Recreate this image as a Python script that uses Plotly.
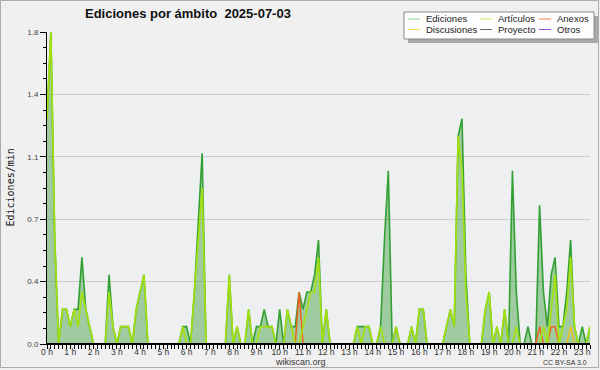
import plotly.graph_objects as go

# ---- data: 10-minute bins, edits per minute ----
minutes = list(range(0, 1410, 10))  # 00:00 .. 23:20

ediciones = [
    1.3, 1.8, 0.6, 0.0, 0.2, 0.2, 0.1, 0.2, 0.2, 0.5, 0.2, 0.1, 0.0, 0.0, 0.0, 0.0, 0.4, 0.1, 0.0, 0.1,
    0.1, 0.1, 0.0, 0.2, 0.3, 0.4, 0.0, 0.0, 0.0, 0.0, 0.0, 0.0, 0.0, 0.0, 0.0, 0.1, 0.1, 0.0, 0.3, 0.7,
    1.1, 0.0, 0.0, 0.0, 0.0, 0.0, 0.0, 0.4, 0.0, 0.1, 0.0, 0.0, 0.2, 0.0, 0.1, 0.1, 0.2, 0.1, 0.1, 0.0,
    0.2, 0.0, 0.2, 0.1, 0.1, 0.3, 0.2, 0.3, 0.3, 0.4, 0.6, 0.0, 0.2, 0.0, 0.0, 0.0, 0.0, 0.0, 0.0, 0.0,
    0.1, 0.1, 0.1, 0.1, 0.0, 0.0, 0.1, 0.6, 1.0, 0.0, 0.1, 0.0, 0.0, 0.0, 0.1, 0.0, 0.2, 0.2, 0.0, 0.0,
    0.0, 0.0, 0.0, 0.1, 0.2, 0.1, 1.2, 1.3, 0.4, 0.0, 0.0, 0.0, 0.0, 0.2, 0.3, 0.0, 0.1, 0.0, 0.2, 0.0,
    1.0, 0.3, 0.0, 0.0, 0.1, 0.0, 0.0, 0.8, 0.3, 0.1, 0.4, 0.5, 0.1, 0.1, 0.3, 0.6, 0.1, 0.0, 0.1, 0.0,
    0.1,
]
articulos = [
    1.3, 1.8, 0.6, 0.0, 0.2, 0.2, 0.1, 0.2, 0.1, 0.3, 0.2, 0.1, 0.0, 0.0, 0.0, 0.0, 0.3, 0.1, 0.0, 0.1,
    0.1, 0.1, 0.0, 0.2, 0.3, 0.4, 0.0, 0.0, 0.0, 0.0, 0.0, 0.0, 0.0, 0.0, 0.0, 0.1, 0.0, 0.0, 0.3, 0.6,
    0.9, 0.0, 0.0, 0.0, 0.0, 0.0, 0.0, 0.4, 0.0, 0.1, 0.0, 0.0, 0.2, 0.0, 0.0, 0.1, 0.1, 0.1, 0.1, 0.0,
    0.0, 0.0, 0.2, 0.1, 0.0, 0.0, 0.1, 0.2, 0.3, 0.3, 0.5, 0.0, 0.2, 0.0, 0.0, 0.0, 0.0, 0.0, 0.0, 0.0,
    0.1, 0.0, 0.1, 0.1, 0.0, 0.0, 0.1, 0.0, 0.0, 0.0, 0.1, 0.0, 0.0, 0.0, 0.1, 0.0, 0.2, 0.2, 0.0, 0.0,
    0.0, 0.0, 0.0, 0.1, 0.2, 0.1, 1.2, 1.0, 0.3, 0.0, 0.0, 0.0, 0.0, 0.2, 0.3, 0.0, 0.1, 0.0, 0.2, 0.0,
    0.0, 0.1, 0.0, 0.0, 0.0, 0.0, 0.0, 0.0, 0.1, 0.0, 0.2, 0.4, 0.0, 0.1, 0.2, 0.5, 0.1, 0.0, 0.0, 0.0,
    0.1,
]
anexos = [0.0] * 141
anexos_nonzero = {65: 0.3, 127: 0.1, 130: 0.1, 131: 0.1}
for k, v in anexos_nonzero.items():
    anexos[k] = v
discusiones = [0.0] * 141
discusiones[135] = 0.1
proyecto = [0.0] * 141
otros = [0.0] * 141

y_tickvals = [0, 0.36, 0.72, 1.08, 1.44, 1.8]
y_ticktext = ["0.0", "0.4", "0.7", "1.1", "1.4", "1.8"]
x_tickvals = list(range(24))
x_ticktext = [f"{h} h" for h in x_tickvals]

legend_items = [
    ("Ediciones", "#8fd88f"), ("Artículos", "#c8ec50"), ("Anexos", "#f08050"),
    ("Discusiones", "#f8d860"), ("Proyecto", "#666666"), ("Otros", "#9a50e8"),
]

hours = [m / 60 for m in minutes]

# ---- geometry ----
W, H = 600, 370
L, R, T, B = 47, 10, 32, 26
PW, PH = W - L - R, H - T - B


def px(x):
    return (x - L) / PW


def py(y):
    return (H - B - y) / PH


fig = go.Figure()
fig.add_trace(go.Scatter(x=hours, y=proyecto, mode="lines", line=dict(color="#555555", width=1.2),
                         showlegend=False, hoverinfo="skip"))
fig.add_trace(go.Scatter(x=hours, y=otros, mode="lines", line=dict(color="#9a50e8", width=1.2),
                         showlegend=False, hoverinfo="skip"))
fig.add_trace(go.Scatter(x=hours, y=ediciones, mode="lines", fill="tozeroy",
                         fillcolor="rgba(60,160,60,0.45)", line=dict(color="#33a033", width=1.6),
                         name="Ediciones", showlegend=False))
fig.add_trace(go.Scatter(x=hours, y=discusiones, mode="lines", line=dict(color="#f0c020", width=1.5),
                         name="Discusiones", showlegend=False))
fig.add_trace(go.Scatter(x=hours, y=anexos, mode="lines", line=dict(color="#f06020", width=1.5),
                         name="Anexos", showlegend=False))
fig.add_trace(go.Scatter(x=hours, y=articulos, mode="lines", line=dict(color="#a4e010", width=1.7),
                         name="Artículos", showlegend=False))

shapes = []
annotations = []
# outer frame
shapes.append(dict(type="rect", xref="paper", yref="paper", x0=px(0.5), x1=px(598.5), y0=py(0.5), y1=py(367.5),
                   line=dict(color="#aaaaaa", width=1), fillcolor="rgba(0,0,0,0)", layer="below"))
# baseline over zero-valued lines
shapes.append(dict(type="line", xref="paper", yref="y", x0=0, x1=1, y0=0, y1=0,
                   line=dict(color="black", width=2), layer="above"))
# legend box with shadow
shapes.append(dict(type="rect", xref="paper", yref="paper", x0=px(408), x1=px(598), y0=py(16), y1=py(43),
                   line=dict(width=0), fillcolor="#a8a8a8", layer="above"))
shapes.append(dict(type="rect", xref="paper", yref="paper", x0=px(404), x1=px(594), y0=py(12), y1=py(39),
                   line=dict(color="#8a8a8a", width=1), fillcolor="#fdfdfd", layer="above"))
col_x = [408, 480, 539]
row_y = [19, 29.5]
for idx, (name, color) in enumerate(legend_items):
    r, c = divmod(idx, 3)
    sx = col_x[c]
    sy = row_y[r]
    shapes.append(dict(type="line", xref="paper", yref="paper", x0=px(sx), x1=px(sx + 12), y0=py(sy), y1=py(sy),
                       line=dict(color=color, width=1), layer="above"))
    annotations.append(dict(text=name, xref="paper", yref="paper", x=px(sx + 16), y=py(sy), xanchor="left",
                            yanchor="middle", showarrow=False,
                            font=dict(family="Liberation Sans", size=9.5, color="#222222")))

annotations += [
    dict(text="<b>Ediciones por ámbito  2025-07-03</b>", xref="paper", yref="paper", x=px(188), y=py(14),
         xanchor="center", yanchor="middle", showarrow=False,
         font=dict(family="Liberation Sans", size=13, color="#111111")),
    dict(text="Ediciones/min", xref="paper", yref="paper", x=px(10), y=py(187.5), textangle=-90,
         xanchor="center", yanchor="middle", showarrow=False,
         font=dict(family="DejaVu Sans Mono", size=10, color="#111111")),
    dict(text="wikiscan.org", xref="paper", yref="paper", x=px(300), y=py(362), xanchor="center",
         yanchor="middle", showarrow=False, font=dict(family="Liberation Sans", size=9, color="#333333")),
    dict(text="CC BY-SA 3.0", xref="paper", yref="paper", x=px(589), y=py(362.5), xanchor="right",
         yanchor="middle", showarrow=False, font=dict(family="Liberation Sans", size=7, color="#333333")),
]

fig.update_layout(
    width=W, height=H, autosize=False,
    margin=dict(l=L, r=R, t=T, b=B, pad=0),
    paper_bgcolor="#f0f0f0", plot_bgcolor="#eeeff1",
    showlegend=False,
    shapes=shapes, annotations=annotations,
    xaxis=dict(range=[0, minutes[-1] / 60], tickvals=x_tickvals, ticktext=x_ticktext,
               ticks="outside", ticklen=4, tickcolor="black", tickwidth=1,
               showline=True, linecolor="black", linewidth=1, showgrid=False, zeroline=False,
               tickfont=dict(family="Liberation Sans", size=8.5, color="#333333"),
               ticklabelstandoff=-4,
               minor=dict(dtick=1 / 6, tick0=0, ticks="outside", ticklen=4, tickcolor="black", showgrid=False)),
    yaxis=dict(range=[0, 1.8], tickvals=y_tickvals, ticktext=y_ticktext,
               ticks="outside", ticklen=6, tickcolor="black", tickwidth=1,
               showline=True, linecolor="black", linewidth=1, showgrid=True, gridcolor="#cdcdcd",
               gridwidth=1, zeroline=False,
               tickfont=dict(family="Liberation Sans", size=8, color="#444444"),
               minor=dict(dtick=0.09, tick0=0, ticks="outside", ticklen=3, tickcolor="black", showgrid=False)),
)

fig.write_html("out.html", config={"displayModeBar": False},
               post_script="document.body.style.margin='0';document.body.style.padding='0';")
